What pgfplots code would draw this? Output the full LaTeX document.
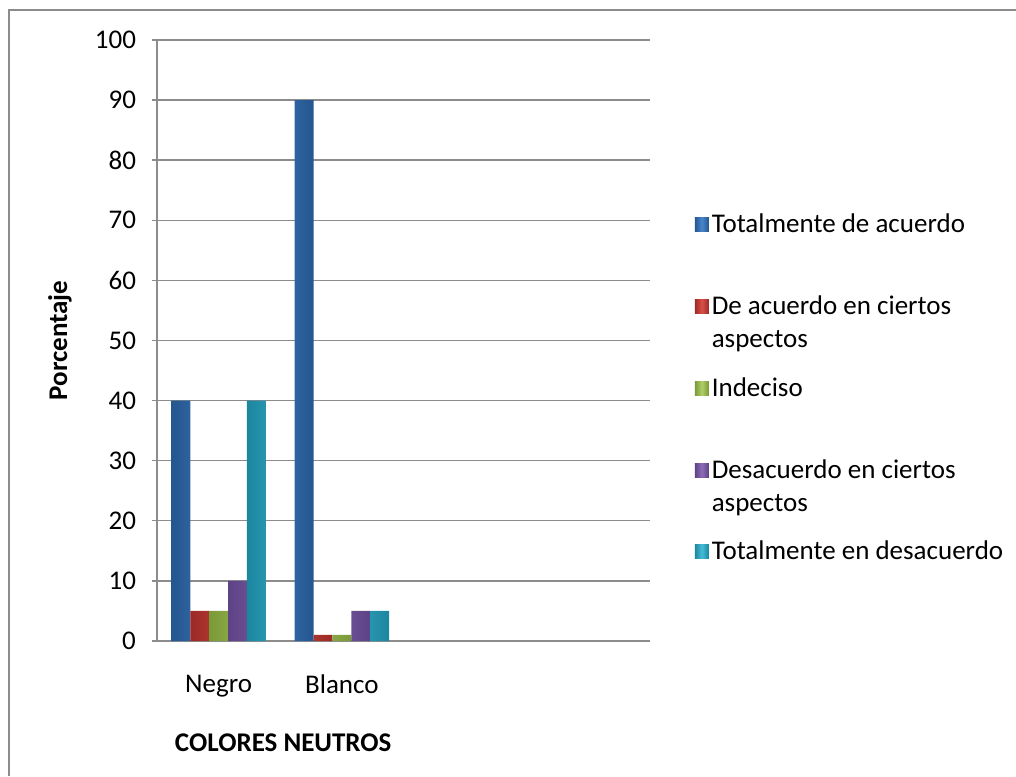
\documentclass[border=0pt]{standalone}
\usepackage{fontspec}
\setmainfont{Carlito}
\usepackage{pgfplots}
\pgfplotsset{compat=1.18}

% Office 2007 palette, dark edge / light middle for the bevelled bars
\definecolor{azulD}{HTML}{24568F}
\definecolor{azulL}{HTML}{4A86CC}
\definecolor{rojoD}{HTML}{9C2A26}
\definecolor{rojoL}{HTML}{DA4F49}
\definecolor{verdeD}{HTML}{7A9937}
\definecolor{verdeL}{HTML}{B0CF68}
\definecolor{moradoD}{HTML}{5D4285}
\definecolor{moradoL}{HTML}{8D6DB8}
\definecolor{cianD}{HTML}{1C869F}
\definecolor{cianL}{HTML}{45BCD8}
\definecolor{rejilla}{HTML}{8C8C8C}

\newcommand{\fnt}{\fontsize{13.5}{16.5}\selectfont}

\begin{document}
\begin{tikzpicture}
\path[use as bounding box] (0pt,0pt) rectangle (508pt,388pt);
% chart frame (open at right and bottom, cut by the picture)
\draw[rejilla, line width=1pt] (4.5pt,0pt) -- (4.5pt,383pt) -- (508pt,383pt);

\begin{axis}[
    at={(78.5pt,67.5pt)},
    anchor=south west,
    scale only axis,
    width=246.5pt,
    height=300.5pt,
    ybar=0pt,
    bar width=0.153,
    xmin=-0.5, xmax=3.5,
    ymin=0, ymax=100,
    xtick={0,1},
    xticklabels={Negro,Blanco},
    ytick={0,10,...,100},
    axis x line*=bottom,
    axis y line*=left,
    axis line style={rejilla, line width=0.8pt, -},
    x axis line style={line width=1pt},
    ymajorgrids,
    grid style={rejilla, line width=0.7pt},
    tick align=outside,
    major tick length=2.5pt,
    x tick style={draw=none},
    y tick style={rejilla, line width=0.7pt},
    tick label style={font=\fnt},
    xticklabel style={yshift=-11pt},
    yticklabel style={xshift=-4.5pt},
    /pgf/number format/assume math mode=true,
    xlabel={\textbf{COLORES NEUTROS}},
    xlabel style={font=\fnt, at={(axis description cs:0.256,-0.17)}, anchor=center},
    ylabel={\textbf{Porcentaje}},
    ylabel style={font=\fnt, at={(axis description cs:-0.197,0.5)}, anchor=center},
    legend cell align=left,
    legend style={draw=none, fill=none, inner sep=0pt, row sep=27pt,
        font=\fnt, at={(1.09,0.716)}, anchor=north west,
        nodes={inner sep=1.5pt}},
    legend image code/.code={\path[#1] (0pt,-3.5pt) rectangle (7pt,3.5pt);},
]
\addplot[draw=none, left color=azulD, right color=azulD, middle color=azulL]
    coordinates {(0,40) (1,90)};
\addlegendentry{Totalmente de acuerdo}
\addplot[draw=none, left color=rojoD, right color=rojoD, middle color=rojoL]
    coordinates {(0,5) (1,1)};
\addlegendentry{\parbox[t]{150pt}{De acuerdo en ciertos\\aspectos}}
\addplot[draw=none, left color=verdeD, right color=verdeD, middle color=verdeL]
    coordinates {(0,5) (1,1)};
\addlegendentry{Indeciso}
\addplot[draw=none, left color=moradoD, right color=moradoD, middle color=moradoL]
    coordinates {(0,10) (1,5)};
\addlegendentry{\parbox[t]{150pt}{Desacuerdo en ciertos\\aspectos}}
\addplot[draw=none, left color=cianD, right color=cianD, middle color=cianL]
    coordinates {(0,40) (1,5)};
\addlegendentry{Totalmente en desacuerdo}
\end{axis}
\end{tikzpicture}
\end{document}
